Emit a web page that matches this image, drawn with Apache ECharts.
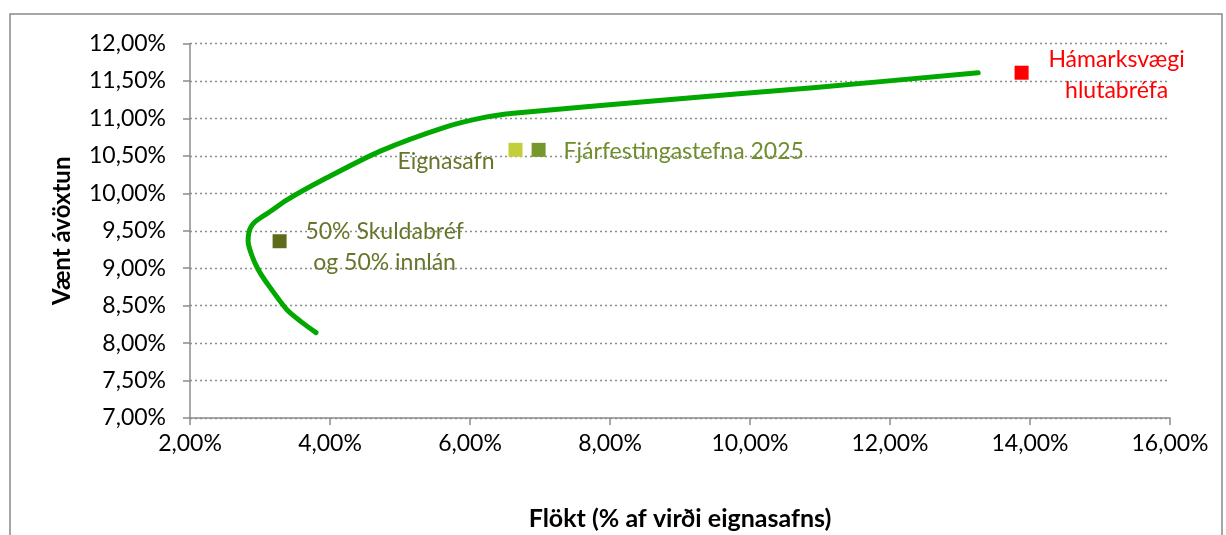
<!DOCTYPE html>
<html lang="is">
<head>
    <meta charset="UTF-8">
    <title>Vænt ávöxtun og flökt</title>
    <script src="https://cdn.jsdelivr.net/npm/echarts@6/dist/echarts.min.js"></script>
    <style>
        body { margin: 0; padding: 0; background: #ffffff; }
        #chart { width: 1226px; height: 535px; }
    </style>
</head>
<body>
<div id="chart"></div>
<script>
    // Skilvirknilína (flökt %, vænt ávöxtun %)
    const frontierX = [3.80, 3.58, 3.38, 3.10, 2.97, 2.88, 2.83, 2.84, 2.87, 2.93, 3.02, 3.15, 3.38, 3.90, 4.71, 5.67, 6.24, 6.62, 8.70, 10.90, 13.26];
    const frontierY = [8.14, 8.29, 8.45, 8.80, 8.99, 9.18, 9.36, 9.47, 9.55, 9.62, 9.68, 9.76, 9.91, 10.18, 10.56, 10.89, 11.02, 11.07, 11.24, 11.41, 11.61];

    // Einstakir punktar
    const pointNames = ['50% Skuldabréf\nog 50% innlán', 'Eignasafn', 'Fjárfestingastefna 2025', 'Hámarksvægi\nhlutabréfa'];
    const pointX = [3.28, 6.65, 6.98, 13.88];
    const pointY = [9.36, 10.58, 10.58, 11.61];
    const pointColors = ['#5f6a1c', '#c3cf3a', '#76972b', '#ff0000'];
    const labelColors = ['#66762a', '#66762a', '#6f8f2e', '#ff0000'];

    const fmt = v => v.toFixed(2).replace('.', ',') + '%';
    const font = 'Lato, "Noto Sans", sans-serif';

    // hvar merkin standa
    const labelPos = [
        { position: 'right', distance: 14, align: 'center', offset: [84, 6] },
        { position: 'left', distance: 14, offset: [0, 12] },
        { position: 'right', distance: 18, offset: [0, 2] },
        { position: 'right', distance: 22, align: 'center', offset: [66, 2] }
    ];

    const chart = echarts.init(document.getElementById('chart'));
    chart.setOption({
        animation: false,
        textStyle: { fontFamily: font },
        graphic: [{
            type: 'rect',
            shape: { x: 10, y: 14, width: 1212, height: 540 },
            style: { fill: 'none', stroke: '#888888', lineWidth: 1.5 },
            silent: true
        }],
        grid: { left: 190, right: 56, top: 43.5, bottom: 117, outerBoundsMode: 'none' },
        xAxis: {
            type: 'value',
            min: 2, max: 16, interval: 2,
            name: 'Flökt (% af virði eignasafns)',
            nameLocation: 'middle',
            nameGap: 88,
            nameTextStyle: { fontSize: 25, fontWeight: 'bold', color: '#000', fontFamily: font },
            axisLine: { lineStyle: { color: '#8c8c8c', width: 1.5 } },
            axisTick: { show: true, length: 7, lineStyle: { color: '#8c8c8c', width: 1.5 } },
            axisLabel: { formatter: fmt, fontSize: 23, color: '#000', margin: 14, fontFamily: font },
            splitLine: { show: false }
        },
        yAxis: {
            type: 'value',
            min: 7, max: 12, interval: 0.5,
            name: 'Vænt ávöxtun',
            nameLocation: 'middle',
            nameGap: 116,
            nameTextStyle: { fontSize: 24, fontWeight: 'bold', color: '#000', fontFamily: font },
            axisLine: { show: true, lineStyle: { color: '#8c8c8c', width: 1.5 } },
            axisTick: { show: true, length: 7, lineStyle: { color: '#8c8c8c', width: 1.5 } },
            axisLabel: { formatter: fmt, fontSize: 23, color: '#000', margin: 24, fontFamily: font },
            splitLine: { show: true, lineStyle: { color: '#8c8c8c', type: [2, 3], width: 1.3 } }
        },
        series: [{
            type: 'line',
            data: frontierX.map((x, i) => [x, frontierY[i]]),
            smooth: 0.25,
            showSymbol: false,
            lineStyle: { color: '#00a800', width: 5, cap: 'round', join: 'round' },
            z: 2
        }, {
            type: 'scatter',
            symbol: 'rect',
            symbolSize: 14,
            z: 3,
            data: pointX.map((x, i) => ({
                value: [x, pointY[i]],
                name: pointNames[i],
                itemStyle: { color: pointColors[i], opacity: 1 },
                label: Object.assign({
                    show: true,
                    formatter: '{b}',
                    color: labelColors[i],
                    fontSize: 23,
                    lineHeight: 31,
                    fontFamily: font
                }, labelPos[i])
            }))
        }]
    });
</script>
</body>
</html>
